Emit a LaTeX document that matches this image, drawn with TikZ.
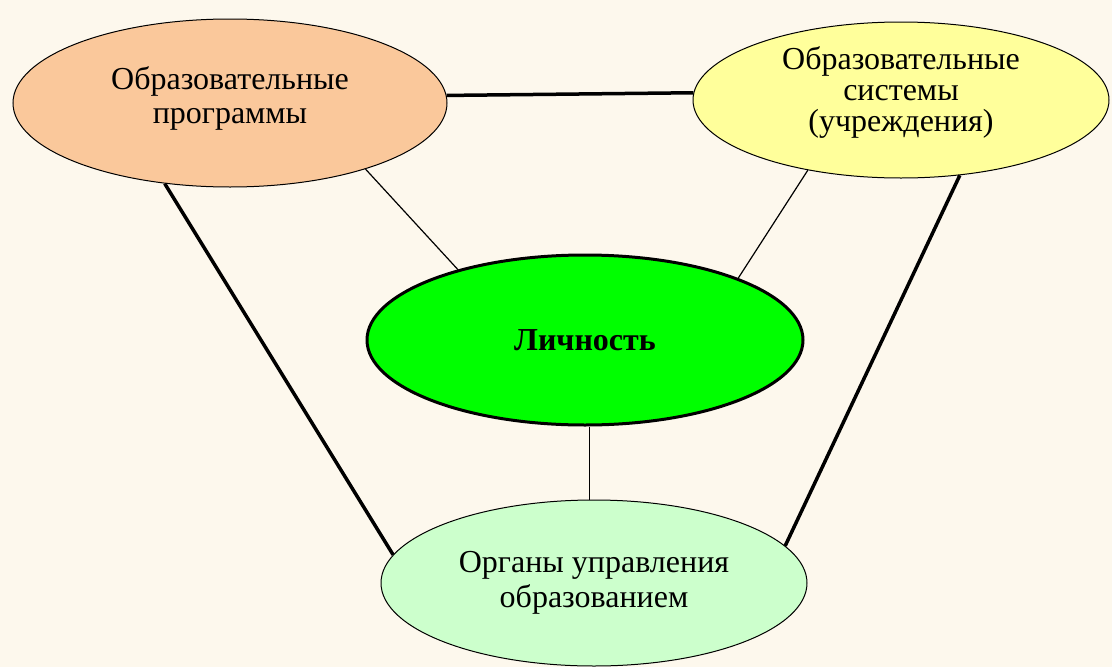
\documentclass[tikz,border=0pt]{standalone}
\usepackage{fontspec}
\setmainfont{Liberation Serif}
\usetikzlibrary{shapes.geometric,calc}
\definecolor{bgcream}{RGB}{253,248,237}
\definecolor{orangefill}{RGB}{250,200,155}
\definecolor{yellowfill}{RGB}{255,255,155}
\definecolor{greenfill}{RGB}{0,255,0}
\definecolor{lightgreenfill}{RGB}{204,255,204}
\tikzset{
  oval/.style={ellipse, draw=black, line width=1pt, inner sep=0pt, align=center,
    font=\fontsize{32}{35}\selectfont},
  ovaltext/.style={inner sep=0pt, align=center},
  thickline/.style={line width=3.5pt},
  thinline/.style={line width=1.2pt}
}
\begin{document}
\begin{tikzpicture}[x=1pt,y=-1pt]
\fill[bgcream] (0,0) rectangle (1112,667);
\useasboundingbox (0,0) rectangle (1112,667);
\node[oval, fill=orangefill, minimum width=434pt, minimum height=168pt] (op) at (230,103) {};
\node[ovaltext, font=\fontsize{32}{34}\selectfont] (opt) at ($(op.center)+(0,-5)$) {Образовательные\\программы};
\node[oval, fill=yellowfill, minimum width=416pt, minimum height=156pt] (ys) at (901,100) {};
\node[ovaltext, font=\fontsize{32}{31}\selectfont] (yst) at ($(ys.center)+(0,-8)$) {Образовательные\\системы\\(учреждения)};
\node[oval, fill=greenfill, line width=3pt, minimum width=436pt, minimum height=170pt, font=\fontsize{32}{35}\selectfont\bfseries] (li) at (585,340) {Личность};
\node[oval, fill=lightgreenfill, minimum width=426pt, minimum height=166pt] (og) at (594,583) {Органы управления\\образованием};
\draw[thickline] (op.2) -- (ys.178);
\draw[thinline] (op.334.8) -- (li.151);
\draw[thinline] (ys.217.3) -- (li.22.2);
\draw[thickline] (op.231.8) -- (og.172.9);
\draw[thickline] (ys.308.5) -- (og.11.4);
\draw[thinline] ($(li.south)!0.5!(li.south -| og.north)$) -- ($(og.north)!0.5!(og.north -| li.south)$);
\end{tikzpicture}
\end{document}
